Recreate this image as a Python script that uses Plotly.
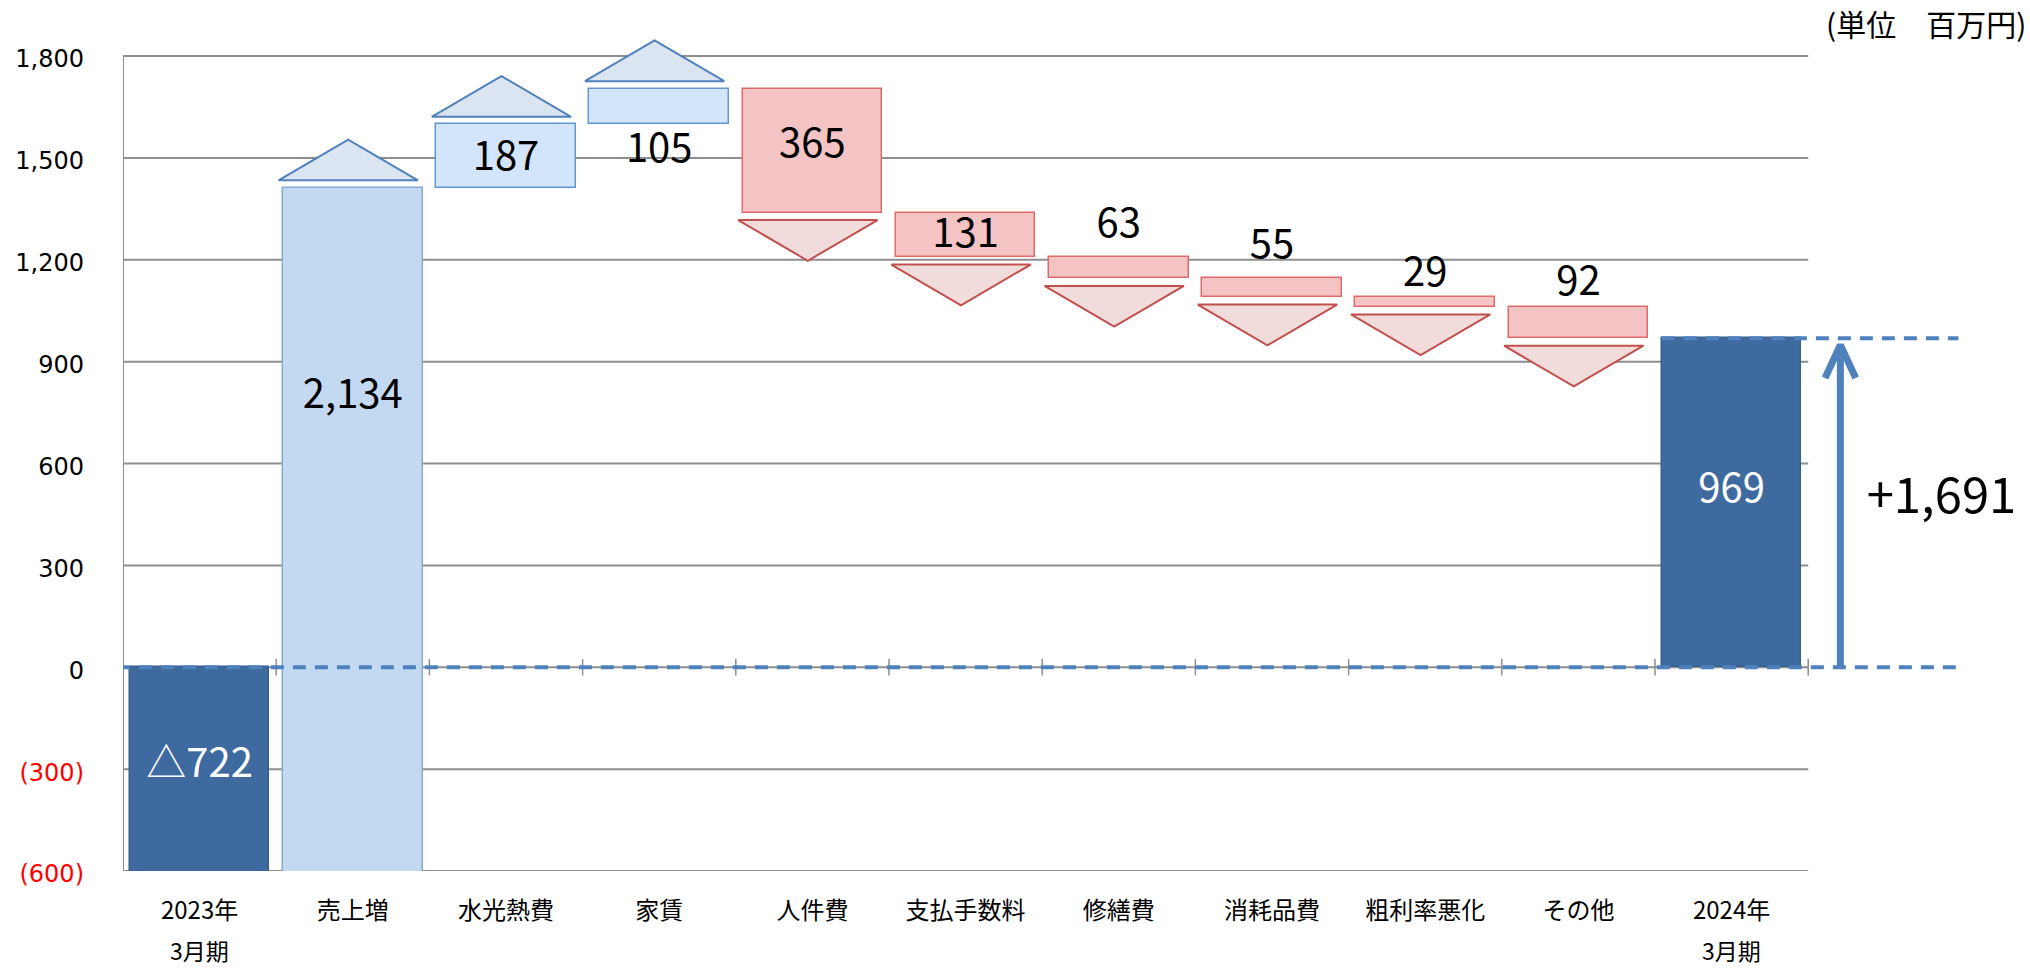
import plotly.graph_objects as go

# ---------------- data ----------------
CATEGORIES = ["2023年", "売上増", "水光熱費", "家賃", "人件費", "支払手数料",
              "修繕費", "消耗品費", "粗利率悪化", "その他", "2024年"]
PERIOD_SUFFIX = "3月期"
START_VALUE = -722
DELTAS = [2134, 187, 105, -365, -131, -63, -55, -29, -92]
END_VALUE = 969
Y_TICKS = [-600, -300, 0, 300, 600, 900, 1200, 1500, 1800]
UNIT_LABEL = "(単位　百万円)"

# label anchor heights (data units) for the value labels, one per category
LABEL_Y = [-293, 793, 1495, 1518, 1533, 1267, 1297, 1236, 1152, 1126, 516]

# ---------------- styles ----------------
FONT = "Noto Sans CJK JP"
TICK_FONT = "DejaVu Sans, Noto Sans CJK JP"
DARK_FILL, DARK_LINE = "#3e6a9f", "#35608f"
BIG_FILL, BIG_LINE = "#c3d8f1", "#8aa9d2"
UP_FILL, UP_LINE = "#d3e5fb", "#6496d2"
DOWN_FILL, DOWN_LINE = "#f4c4c5", "#e06a6a"
UPTRI_FILL, UPTRI_LINE = "#dbe5f1", "#4f81bd"
DNTRI_FILL, DNTRI_LINE = "#f2dcdb", "#c0504d"
GRID = "#8e8e8e"
ACCENT = "#4f81bd"
BAR_W = 0.91
TRI_GAP, TRI_H, TRI_SHIFT = 22, 120, -0.03

n = len(CATEGORIES)
xs = list(range(n))

# ---------------- waterfall geometry from data ----------------
bases, heights, fills, lines = [0], [START_VALUE], [DARK_FILL], [DARK_LINE]
level = START_VALUE
ends = []
for i, d in enumerate(DELTAS):
    bases.append(level)
    heights.append(d)
    if d >= 0:
        fills.append(BIG_FILL if i == 0 else UP_FILL)
        lines.append(BIG_LINE if i == 0 else UP_LINE)
    else:
        fills.append(DOWN_FILL)
        lines.append(DOWN_LINE)
    ends.append((level, level + d))
    level += d
bases.append(0)
heights.append(END_VALUE)
fills.append(DARK_FILL)
lines.append(DARK_LINE)

fig = go.Figure()

fig.add_trace(go.Bar(
    x=xs, y=heights, base=bases, width=BAR_W,
    marker=dict(color=fills, line=dict(color=lines, width=1.5)),
    hoverinfo="skip"))

# triangles
ux, uy, dx, dy = [], [], [], []
for i, (a, b) in enumerate(ends):
    c = i + 1 + TRI_SHIFT
    l, r = c - BAR_W / 2, c + BAR_W / 2
    if b >= a:
        y0 = b + TRI_GAP
        ux += [l, r, c, l, None]
        uy += [y0, y0, y0 + TRI_H, y0, None]
    else:
        y0 = b - TRI_GAP
        dx += [l, r, c, l, None]
        dy += [y0, y0, y0 - TRI_H, y0, None]
fig.add_trace(go.Scatter(x=ux, y=uy, mode="lines", fill="toself", fillcolor=UPTRI_FILL,
                         line=dict(color=UPTRI_LINE, width=2), hoverinfo="skip"))
fig.add_trace(go.Scatter(x=dx, y=dy, mode="lines", fill="toself", fillcolor=DNTRI_FILL,
                         line=dict(color=DNTRI_LINE, width=2), hoverinfo="skip"))

# dashed reference lines
x_right = n + 0.48
fig.add_trace(go.Scatter(x=[-0.54, x_right], y=[0, 0], mode="lines",
                         line=dict(color=ACCENT, width=4, dash="13px,9px"), hoverinfo="skip"))
fig.add_trace(go.Scatter(x=[n - 1 - BAR_W / 2, x_right], y=[END_VALUE, END_VALUE], mode="lines",
                         line=dict(color=ACCENT, width=4, dash="13px,9px"), hoverinfo="skip"))

# arrow for the change
ax = n - 0.29
tip = END_VALUE - 20
fig.add_trace(go.Scatter(x=[ax, ax], y=[0, tip], mode="lines",
                         line=dict(color=ACCENT, width=7), hoverinfo="skip"))
fig.add_trace(go.Scatter(x=[ax - 0.1, ax, ax + 0.1], y=[tip - 97, tip, tip - 97], mode="lines",
                         line=dict(color=ACCENT, width=7), hoverinfo="skip"))

# value labels
texts = ["△{:,}".format(abs(START_VALUE))] + ["{:,}".format(abs(d)) for d in DELTAS] + ["{:,}".format(END_VALUE)]
tcolors = ["white"] + ["black"] * len(DELTAS) + ["white"]
fig.add_trace(go.Scatter(x=xs, y=LABEL_Y, mode="text", text=texts,
                         textfont=dict(size=40, color=tcolors, family=FONT),
                         textposition="middle center", cliponaxis=False, hoverinfo="skip"))
change = END_VALUE - START_VALUE
fig.add_trace(go.Scatter(x=[n + 0.37], y=[490], mode="text", text=["+{:,}".format(change)],
                         textfont=dict(size=49, color="black", family=FONT),
                         textposition="middle center", cliponaxis=False, hoverinfo="skip"))

# gridlines, axis line, ticks as shapes
shapes = []
for v in Y_TICKS:
    shapes.append(dict(type="line", xref="x", yref="y", x0=-0.5, x1=n - 0.5, y0=v, y1=v,
                       line=dict(color=GRID, width=2), layer="below"))
shapes.append(dict(type="line", xref="x", yref="y", x0=-0.5, x1=-0.5, y0=Y_TICKS[0], y1=Y_TICKS[-1],
                   line=dict(color=GRID, width=2), layer="below"))
for k in range(n):
    shapes.append(dict(type="line", xref="x", yref="y", x0=k + 0.5, x1=k + 0.5, y0=-24, y1=24,
                       line=dict(color=GRID, width=1.5), layer="below"))

# second line for period labels
annotations = [
    dict(x=0, y=-0.0907, xref="x", yref="paper", text=PERIOD_SUFFIX, showarrow=False,
         font=dict(size=23, color="black", family=FONT), yanchor="middle", borderpad=0),
    dict(x=n - 1, y=-0.0907, xref="x", yref="paper", text=PERIOD_SUFFIX, showarrow=False,
         font=dict(size=23, color="black", family=FONT), yanchor="middle", borderpad=0),
    dict(x=1, y=0.974, xref="paper", yref="paper", text=UNIT_LABEL, showarrow=False,
         xanchor="right", yanchor="middle", xshift=-2,
         font=dict(size=30, color="black", family=FONT)),
]

ytext = []
for v in Y_TICKS:
    if v < 0:
        ytext.append("<span style='color:red'>({:,})</span>".format(abs(v)))
    else:
        ytext.append("{:,}".format(v))

fig.update_layout(
    width=2030, height=970,
    margin=dict(l=123, r=0, t=0, b=99, autoexpand=False),
    plot_bgcolor="white", paper_bgcolor="white",
    showlegend=False, bargap=0,
    font=dict(family=FONT, color="black"),
    shapes=shapes, annotations=annotations,
)
fig.update_xaxes(range=[-0.5, -0.5 + 1907 / 153.2], tickvals=xs, ticktext=CATEGORIES,
                 showgrid=False, zeroline=False, showline=False, ticks="",
                 tickfont=dict(size=24, color="black", family=FONT), ticklabelstandoff=23,
                 automargin=False)
fig.update_yaxes(range=[-600, 1965], tickvals=Y_TICKS, ticktext=ytext,
                 showgrid=False, zeroline=False, showline=False, ticks="",
                 tickfont=dict(size=24, color="black", family=TICK_FONT), ticklabelstandoff=38,
                 ticklabelshift=3, automargin=False)

fig.write_html("out.html")
